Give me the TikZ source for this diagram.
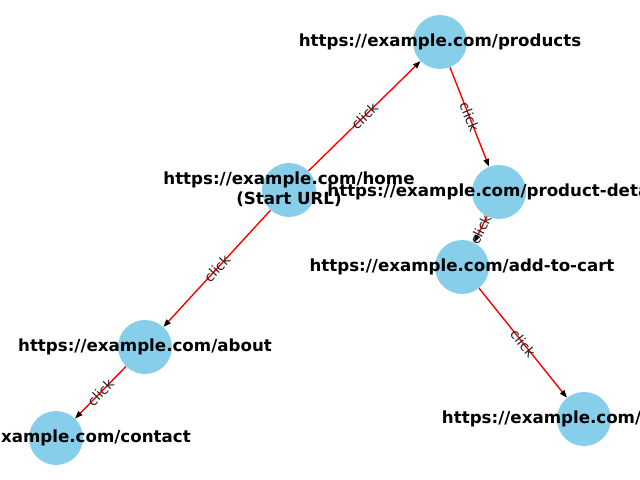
\documentclass[tikz,border=0pt]{standalone}
\usepackage{fontspec}
\setmainfont{DejaVu Sans}
\usetikzlibrary{arrows.meta}
\definecolor{skyb}{RGB}{135,206,235}
\begin{document}
\begin{tikzpicture}[x=0.72pt,y=-0.72pt,
  vert/.style={circle,fill=skyb,minimum size=54*0.72pt,inner sep=0pt},
  lbl/.style={font=\fontsize{12pt}{14.5pt}\selectfont\bfseries,align=center,inner sep=0pt},
  edge/.style={draw=red,line width=1pt,-{Triangle[length=5.5pt,width=4pt,color=black]}},
  elbl/.style={midway,sloped,font=\fontsize{10pt}{12pt}\selectfont,text=black!85,inner sep=0pt}]
\useasboundingbox (0,0) rectangle (640,480);
\clip (0,0) rectangle (640,480);
\node[vert] (products) at (440,42) {};
\node[vert] (home) at (289,190) {};
\node[vert] (details) at (499,192) {};
\node[vert] (cart) at (462,267) {};
\node[vert] (about) at (145,347) {};
\node[vert] (contact) at (56,438) {};
\node[vert] (checkout) at (584,419) {};
\draw[edge] (home) -- node[elbl] {click} (products);
\draw[edge] (products) -- node[elbl] {click} (details);
\draw[edge] (home) -- node[elbl] {click} (about);
\draw[edge] (about) -- node[elbl] {click} (contact);
\draw[edge] (details) -- node[elbl] {click} (cart);
\draw[edge] (cart) -- node[elbl] {click} (checkout);
\node[lbl] (lproducts) at (440,42) {https://example.com/products};
\node[lbl] (lhome) at (289,189) {https://example.com/home\\(Start URL)};
\node[lbl] (ldetails) at (499,192) {https://example.com/product-details};
\node[lbl] (lcart) at (462,267) {https://example.com/add-to-cart};
\node[lbl] (labout) at (145,347) {https://example.com/about};
\node[lbl] (lcontact) at (56,438) {https://example.com/contact};
\node[lbl] (lcheckout) at (584,419) {https://example.com/checkout};
\end{tikzpicture}
\end{document}
